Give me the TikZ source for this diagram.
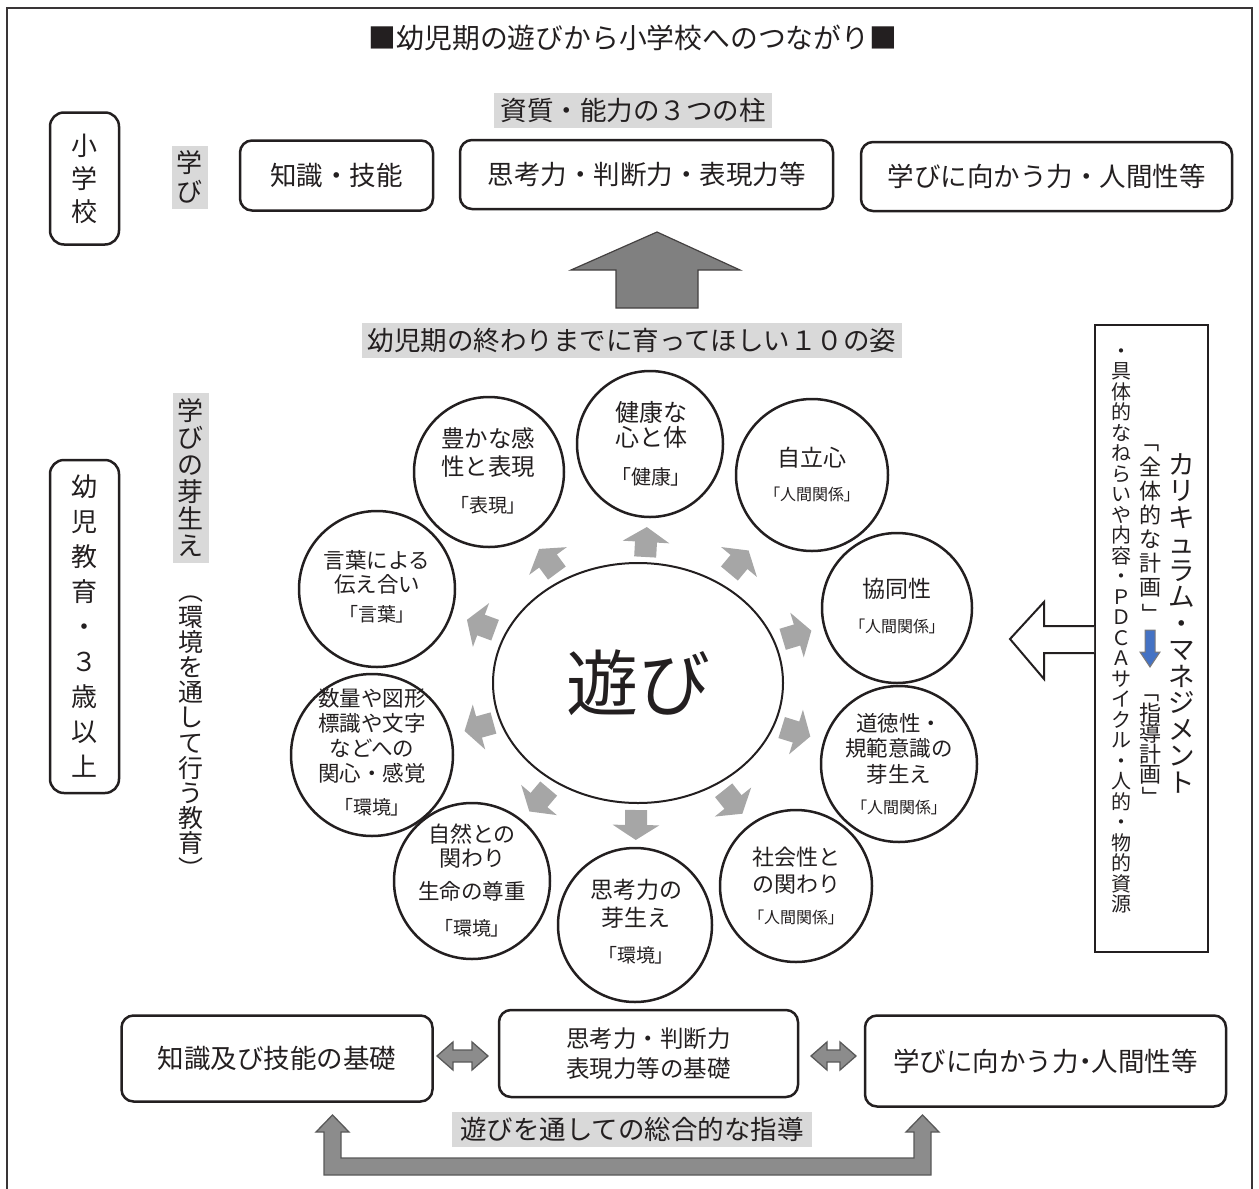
\documentclass[tikz,border=0pt]{standalone}
\usepackage{fontspec}
\setmainfont{Noto Sans CJK JP}
\newfontfamily\jpp[RawFeature=+palt]{Noto Sans CJK JP}
\usetikzlibrary{shapes.geometric,arrows.meta,calc}
\definecolor{lblgray}{HTML}{D9D9D9}
\definecolor{ink}{HTML}{231F20}
\definecolor{sarr}{HTML}{A6A6A6}
\definecolor{barr}{HTML}{808080}
\definecolor{barr2}{HTML}{8C8C8C}
\definecolor{bline}{HTML}{595959}
\definecolor{blueA}{HTML}{4472C4}
\newcommand\myfs[2]{\fontsize{#1}{#2}\selectfont\lineskiplimit=-100pt\lineskip=0pt}
\newcommand\vr[1]{\rotatebox[origin=c]{-90}{#1}}
\begin{document}
\begin{tikzpicture}[x=1pt,y=-1pt,
  rbox/.style={draw=ink,line width=2.5pt,rounded corners=12pt,inner sep=0pt,align=center,text=ink},
  lblbox/.style={fill=lblgray,inner sep=0pt,align=center,text=ink},
  circ/.style={circle,draw=ink,line width=2.5pt,inner sep=0pt},
  ctext/.style={align=center,inner sep=0pt,text=ink},
  smallarr/.style={draw=sarr,line width=22pt,-{Triangle[length=15pt,width=46pt]}},
  bigarr/.style={fill=barr2,draw=bline,line width=1.3pt,line join=miter},
]
\useasboundingbox (0,0) rectangle (1259,1189);
\draw[ink!90,line width=2pt] (7,1195) -- (7,8) -- (1252,8) -- (1252,1195);

% title
\node[ctext,font=\myfs{27.8}{28}] (title) at (633,38) {■幼児期の遊びから小学校へのつながり■};

% top
\node[lblbox,minimum width=278pt,minimum height=35pt,font=\myfs{26.5}{27}] (pillars) at (633,110) {資質・能力の３つの柱};
\node[rbox,minimum width=193pt,minimum height=70pt,font=\myfs{26.5}{27}] (t1) at (336.5,175.5) {知識・技能};
\node[rbox,minimum width=373pt,minimum height=69pt,font=\myfs{26.5}{27}] (t2) at (646.5,174.5) {思考力・判断力・表現力等};
\node[rbox,minimum width=371pt,minimum height=69pt,font=\myfs{26.5}{27}] (t3) at (1046.5,176.5) {学びに向かう力・人間性等};

% left labels
\node[rbox,rounded corners=14pt,minimum width=69pt,minimum height=132pt,font=\myfs{26}{33}] (els) at (84.5,178.5) {小\\学\\校};
\node[rbox,rounded corners=14pt,minimum width=69pt,minimum height=333pt,font=\myfs{26}{35}] (yoji) at (84.5,626.5) {幼\\児\\教\\育\\・\\３\\歳\\以\\上};
\node[lblbox,minimum width=36pt,minimum height=63pt,font=\myfs{26}{29}] (manabi) at (189.5,177) {学\\び};
\node[lblbox,minimum width=36pt,minimum height=170pt,font=\myfs{26}{27}] (mebae) at (190.5,478) {学\\び\\の\\芽\\生\\え};
\node[ctext,font=\myfs{25}{25.2}] (kankyo) at (191,730) {\vr{（}\\環\\境\\を\\通\\し\\て\\行\\う\\教\\育\\\vr{）}};

% big up arrow
\coordinate (up) at (657,232);
\draw[fill=barr,draw=ink!85,line width=1.2pt] (up) -- (740,270) -- (698,270) -- (698,308) -- (616,308) -- (616,270) -- (571,270) -- cycle;

\node[lblbox,minimum width=540pt,minimum height=35pt,font=\myfs{26.5}{27}] (sugata) at (632,340) {幼児期の終わりまでに育ってほしい１０の姿};

% central ellipse
\node[ellipse,draw=ink,line width=2pt,minimum width=290pt,minimum height=240pt,inner sep=0pt,font=\myfs{72}{72},text=ink] (E) at (638,683) {遊び};

% circles
\node[circ,minimum size=146pt] (c1) at (650,444) {};
\node[ctext,font=\myfs{24}{25.5}] (c1a) at (651,425) {健康な\\心と体};
\node[ctext,font=\jpp\myfs{20}{20}] (c1b) at (651,477) {「健康」};

\node[circ,minimum size=152pt] (c2) at (812,475) {};
\node[ctext,font=\myfs{23}{23}] (c2a) at (812,458) {自立心};
\node[ctext,font=\jpp\myfs{16}{16}] (c2b) at (812,494) {「人間関係」};

\node[circ,minimum size=150pt] (c3) at (897,608) {};
\node[ctext,font=\myfs{23}{23}] (c3a) at (897,589) {協同性};
\node[ctext,font=\jpp\myfs{16}{16}] (c3b) at (897,626) {「人間関係」};

\node[circ,minimum size=156pt] (c4) at (899,764) {};
\node[ctext,font=\myfs{21.5}{25.5}] (c4a) at (899,748.5) {道徳性・\\規範意識の\\芽生え};
\node[ctext,font=\jpp\myfs{16}{16}] (c4b) at (899,807) {「人間関係」};

\node[circ,minimum size=152pt] (c5) at (796,886) {};
\node[ctext,font=\myfs{22}{27}] (c5a) at (796,870.5) {社会性と\\の関わり};
\node[ctext,font=\jpp\myfs{16}{16}] (c5b) at (796,917) {「人間関係」};

\node[circ,minimum size=154pt] (c6) at (635,925) {};
\node[ctext,font=\myfs{23}{28}] (c6a) at (636,904) {思考力の\\芽生え};
\node[ctext,font=\jpp\myfs{19}{19}] (c6b) at (636,955) {「環境」};

\node[circ,minimum size=156pt] (c7) at (472,881) {};
\node[ctext,font=\myfs{22}{24}] (c7a) at (472,846) {自然との\\関わり};
\node[ctext,font=\myfs{21.5}{21.5}] (c7b) at (472,891) {生命の尊重};
\node[ctext,font=\jpp\myfs{19}{19}] (c7c) at (472,928) {「環境」};

\node[circ,minimum size=162pt] (c8) at (372,755) {};
\node[ctext,font=\myfs{21.5}{25}] (c8a) at (372,735.5) {数量や図形\\標識や文字\\などへの\\関心・感覚};
\node[ctext,font=\jpp\myfs{19}{19}] (c8b) at (372,807) {「環境」};

\node[circ,minimum size=156pt] (c9) at (377,589) {};
\node[ctext,font=\myfs{21.5}{24}] (c9a) at (377,572) {言葉による\\伝え合い};
\node[ctext,font=\jpp\myfs{19}{19}] (c9b) at (377,614) {「言葉」};

\node[circ,minimum size=150pt] (c10) at (489,472) {};
\node[ctext,font=\myfs{23.5}{28}] (c10a) at (488,453) {豊かな感\\性と表現};
\node[ctext,font=\jpp\myfs{19}{19}] (c10b) at (488,505) {「表現」};

% small arrows
\coordinate (a1) at (646,542);
\coordinate (a2) at (739,562);
\coordinate (a3) at (797,635);
\coordinate (a4) at (796,732);
\coordinate (a5) at (733,802);
\coordinate (a6) at (636,825);
\coordinate (a7) at (539,800);
\coordinate (a8) at (479,727);
\coordinate (a9) at (481,625);
\coordinate (a10) at (548,561);
\foreach \a in {a1,a2,a3,a4,a5,a6,a7,a8,a9,a10}{
  \draw[smallarr] ($(\a)!15pt!(E.center)$) -- ($(\a)!-15pt!(E.center)$);
}

% curriculum management box
\node[draw=ink,line width=2pt,minimum width=113pt,minimum height=627pt,inner sep=0pt] (cm) at (1151.5,638.5) {};
\node[ctext,font=\myfs{26.5}{26.5}] (cm1) at (1182,623) {カ\\リ\\キ\\ュ\\ラ\\ム\\・\\マ\\ネ\\ジ\\メ\\ン\\ト};
\node[ctext,font=\myfs{22}{24}] (cm2) at (1150,528) {\vr{「}\\全\\体\\的\\な\\計\\画\\\vr{」}};
\node[ctext,font=\myfs{22}{20.5}] (cm3) at (1150,744.5) {\vr{「}\\指\\導\\計\\画\\\vr{」}};
\node[ctext,font=\myfs{20}{20.5}] (cm4) at (1121,631) {・\\具\\体\\的\\な\\ね\\ら\\い\\や\\内\\容\\・\\Ｐ\\Ｄ\\Ｃ\\Ａ\\サ\\イ\\ク\\ル\\・\\人\\的\\・\\物\\的\\資\\源};
\draw[fill=blueA,draw=ink!60,line width=1pt] (1145,630) -- (1155,630) -- (1155,652) -- (1160,652) -- (1150,667) -- (1140,652) -- (1145,652) -- cycle;
\coordinate (hw) at (1010,639);
\draw[ink,line width=2pt,fill=white,line join=miter] (cm.west |- 0,626) -- (1044,626) -- (1044,602) -- (hw) -- (1044,679) -- (1044,653) -- (cm.west |- 0,653);

% bottom boxes
\node[rbox,minimum width=311pt,minimum height=86pt,font=\myfs{26.5}{27}] (b1) at (277,1058.5) {知識及び技能の基礎};
\node[rbox,minimum width=299pt,minimum height=87pt,font=\myfs{23.5}{30}] (b2) at (648.5,1053.5) {思考力・判断力\\表現力等の基礎};
\node[rbox,minimum width=361pt,minimum height=91pt,font=\myfs{26.5}{27}] (b3) at (1045.5,1061) {学びに向かう力{\jpp ・}人間性等};

% double arrows
\draw[bigarr] (437,1056) -- (453,1042) -- (453,1050) -- (472,1050) -- (472,1042) -- (488,1056) -- (472,1070) -- (472,1062) -- (453,1062) -- (453,1070) -- cycle;
\draw[bigarr] (811,1056) -- (827,1042) -- (827,1050) -- (840,1050) -- (840,1042) -- (856,1056) -- (840,1070) -- (840,1062) -- (827,1062) -- (827,1070) -- cycle;

\node[lblbox,minimum width=360pt,minimum height=35pt,font=\myfs{26.5}{27}] (sogo) at (632,1129) {遊びを通しての総合的な指導};

% U arrow
\draw[bigarr] (332.5,1115) -- (349,1132) -- (341,1132) -- (341,1158) -- (914,1158) -- (914,1132) -- (906,1132) -- (922.5,1115) -- (939,1132) -- (931,1132) -- (931,1175) -- (324,1175) -- (324,1132) -- (316,1132) -- cycle;
\end{tikzpicture}
\end{document}
